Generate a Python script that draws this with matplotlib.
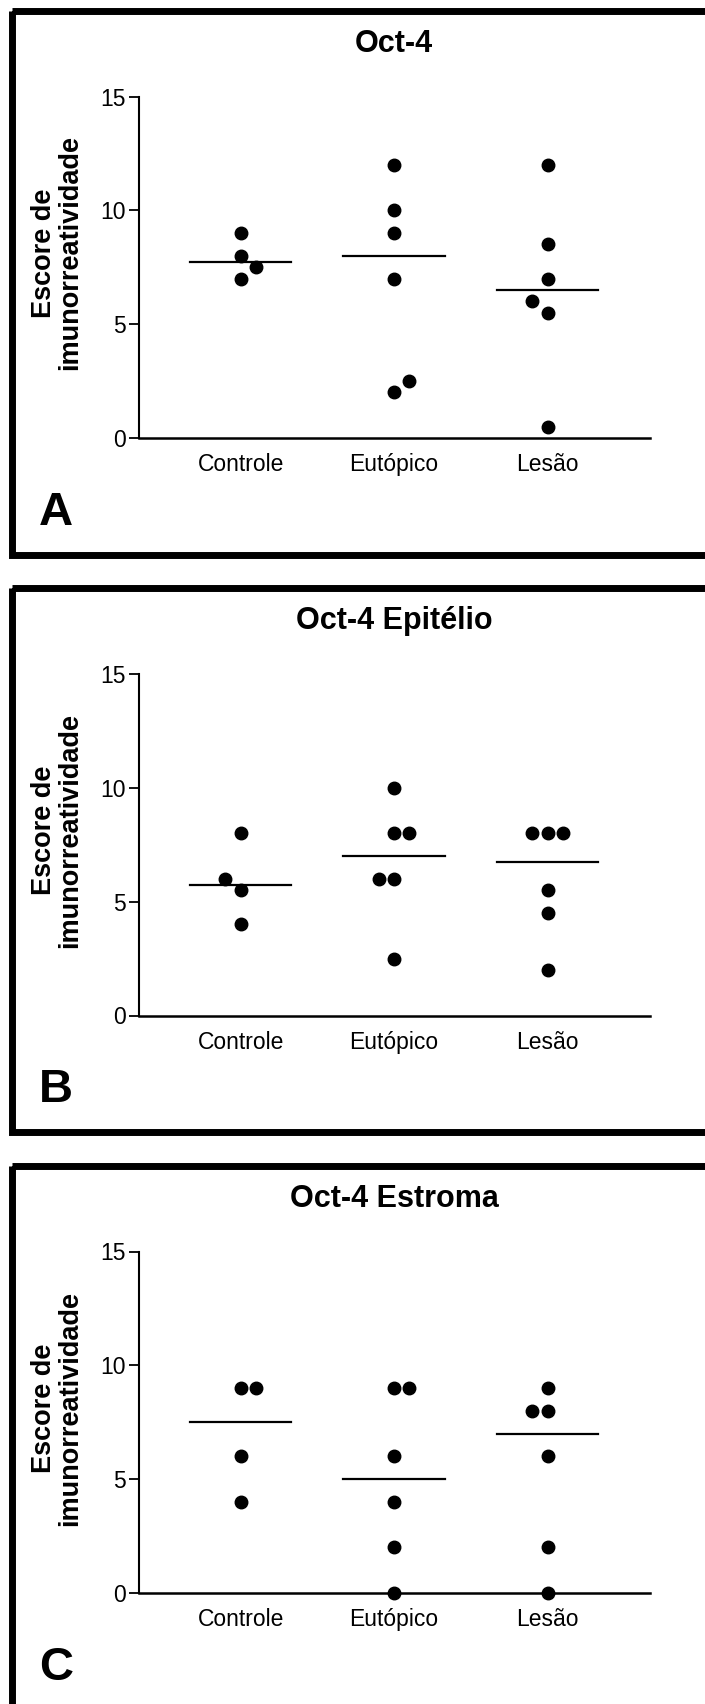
import matplotlib
matplotlib.use("Agg")
import matplotlib.pyplot as plt
import numpy as np
from matplotlib.patches import Rectangle

plt.rcParams["font.family"] = ["Liberation Sans", "DejaVu Sans"]

groups = ["Controle", "Eutópico", "Lesão"]
titles = ["Oct-4", "Oct-4 Epitélio", "Oct-4 Estroma"]
letters = ["A", "B", "C"]
ylabel = "Escore de\nimunorreatividade"
yticks = [0, 5, 10, 15]

# scores per group
oct4_total = [[9, 8, 7.5, 7], [12, 10, 9, 7, 2.5, 2], [12, 8.5, 7, 6, 5.5, 0.5]]
oct4_epitelio = [[8, 6, 5.5, 4], [10, 8, 8, 6, 6, 2.5], [8, 8, 8, 5.5, 4.5, 2]]
oct4_estroma = [[9, 9, 6, 4], [9, 9, 6, 4, 2, 0], [9, 8, 8, 6, 2, 0]]

# column-scatter side (-1 left, 0 centre, 1 right) for overlapping dots
side_total = [[0, 0, 1, 0], [0, 0, 0, 0, 1, 0], [0, 0, 0, -1, 0, 0]]
side_epitelio = [[0, -1, 0, 0], [0, 0, 1, -1, 0, 0], [-1, 0, 1, 0, 0, 0]]
side_estroma = [[0, 1, 0, 0], [0, 1, 0, 0, 0, 0], [0, -1, 0, 0, 0, 0]]

panels = [
    (oct4_total, side_total),
    (oct4_epitelio, side_epitelio),
    (oct4_estroma, side_estroma),
]

W, H = 705, 1704
fig = plt.figure(figsize=(W / 100, H / 100), dpi=100)

# overlay in pixel coordinates for the panel frames
bg = fig.add_axes([0, 0, 1, 1])
bg.set_xlim(0, W)
bg.set_ylim(H, 0)
bg.axis("off")

ax_left, ax_right = 138.5, 649.7
step = 577.5
dx = 0.1  # horizontal offset of side-by-side dots
half = 0.33  # half-width of median line

for i, ((values, sides), title, letter) in enumerate(zip(panels, titles, letters)):
    top = 7 + step * i
    bg.add_patch(Rectangle((11.5, top + 3.5), 900, 544, fill=False,
                           edgecolor="black", linewidth=5.0))

    y15 = top + 89.5
    y0 = top + 431
    ax = fig.add_axes([ax_left / W, 1 - y0 / H,
                       (ax_right - ax_left) / W, (y0 - y15) / H])
    for g, (vals, sd) in enumerate(zip(values, sides)):
        xs = g + dx * np.asarray(sd)
        ax.plot(xs, vals, "o", color="black", markersize=9, clip_on=False,
                zorder=3)
        med = np.median(vals)
        ax.plot([g - half, g + half], [med, med], color="black", linewidth=1.6)

    ax.set_xlim(-0.665, 2.665)
    ax.set_ylim(0, 15)
    ax.set_yticks(yticks)
    ax.set_xticks(range(len(groups)))
    ax.set_xticklabels(groups)
    ax.spines["top"].set_visible(False)
    ax.spines["right"].set_visible(False)
    ax.spines["left"].set_linewidth(1.5)
    ax.spines["bottom"].set_linewidth(1.8)
    ax.tick_params(axis="y", direction="out", length=7, width=1.3, pad=2,
                   labelsize=16.5)
    ax.tick_params(axis="x", length=0, pad=11, labelsize=16.5)
    ax.patch.set_alpha(0)

    fig.text(394 / W, 1 - (top + 37) / H, title, ha="center", va="center",
             fontsize=22, fontweight="bold")
    fig.text(57 / W, 1 - (top + 246) / H, ylabel, ha="center", va="center",
             rotation=90, fontsize=19.5, fontweight="bold", linespacing=1.0,
             multialignment="center")
    fig.text(56 / W, 1 - (top + 506) / H, letter, ha="center", va="center",
             fontsize=34, fontweight="bold")

fig.savefig("out.png", dpi=100)
plt.close(fig)
